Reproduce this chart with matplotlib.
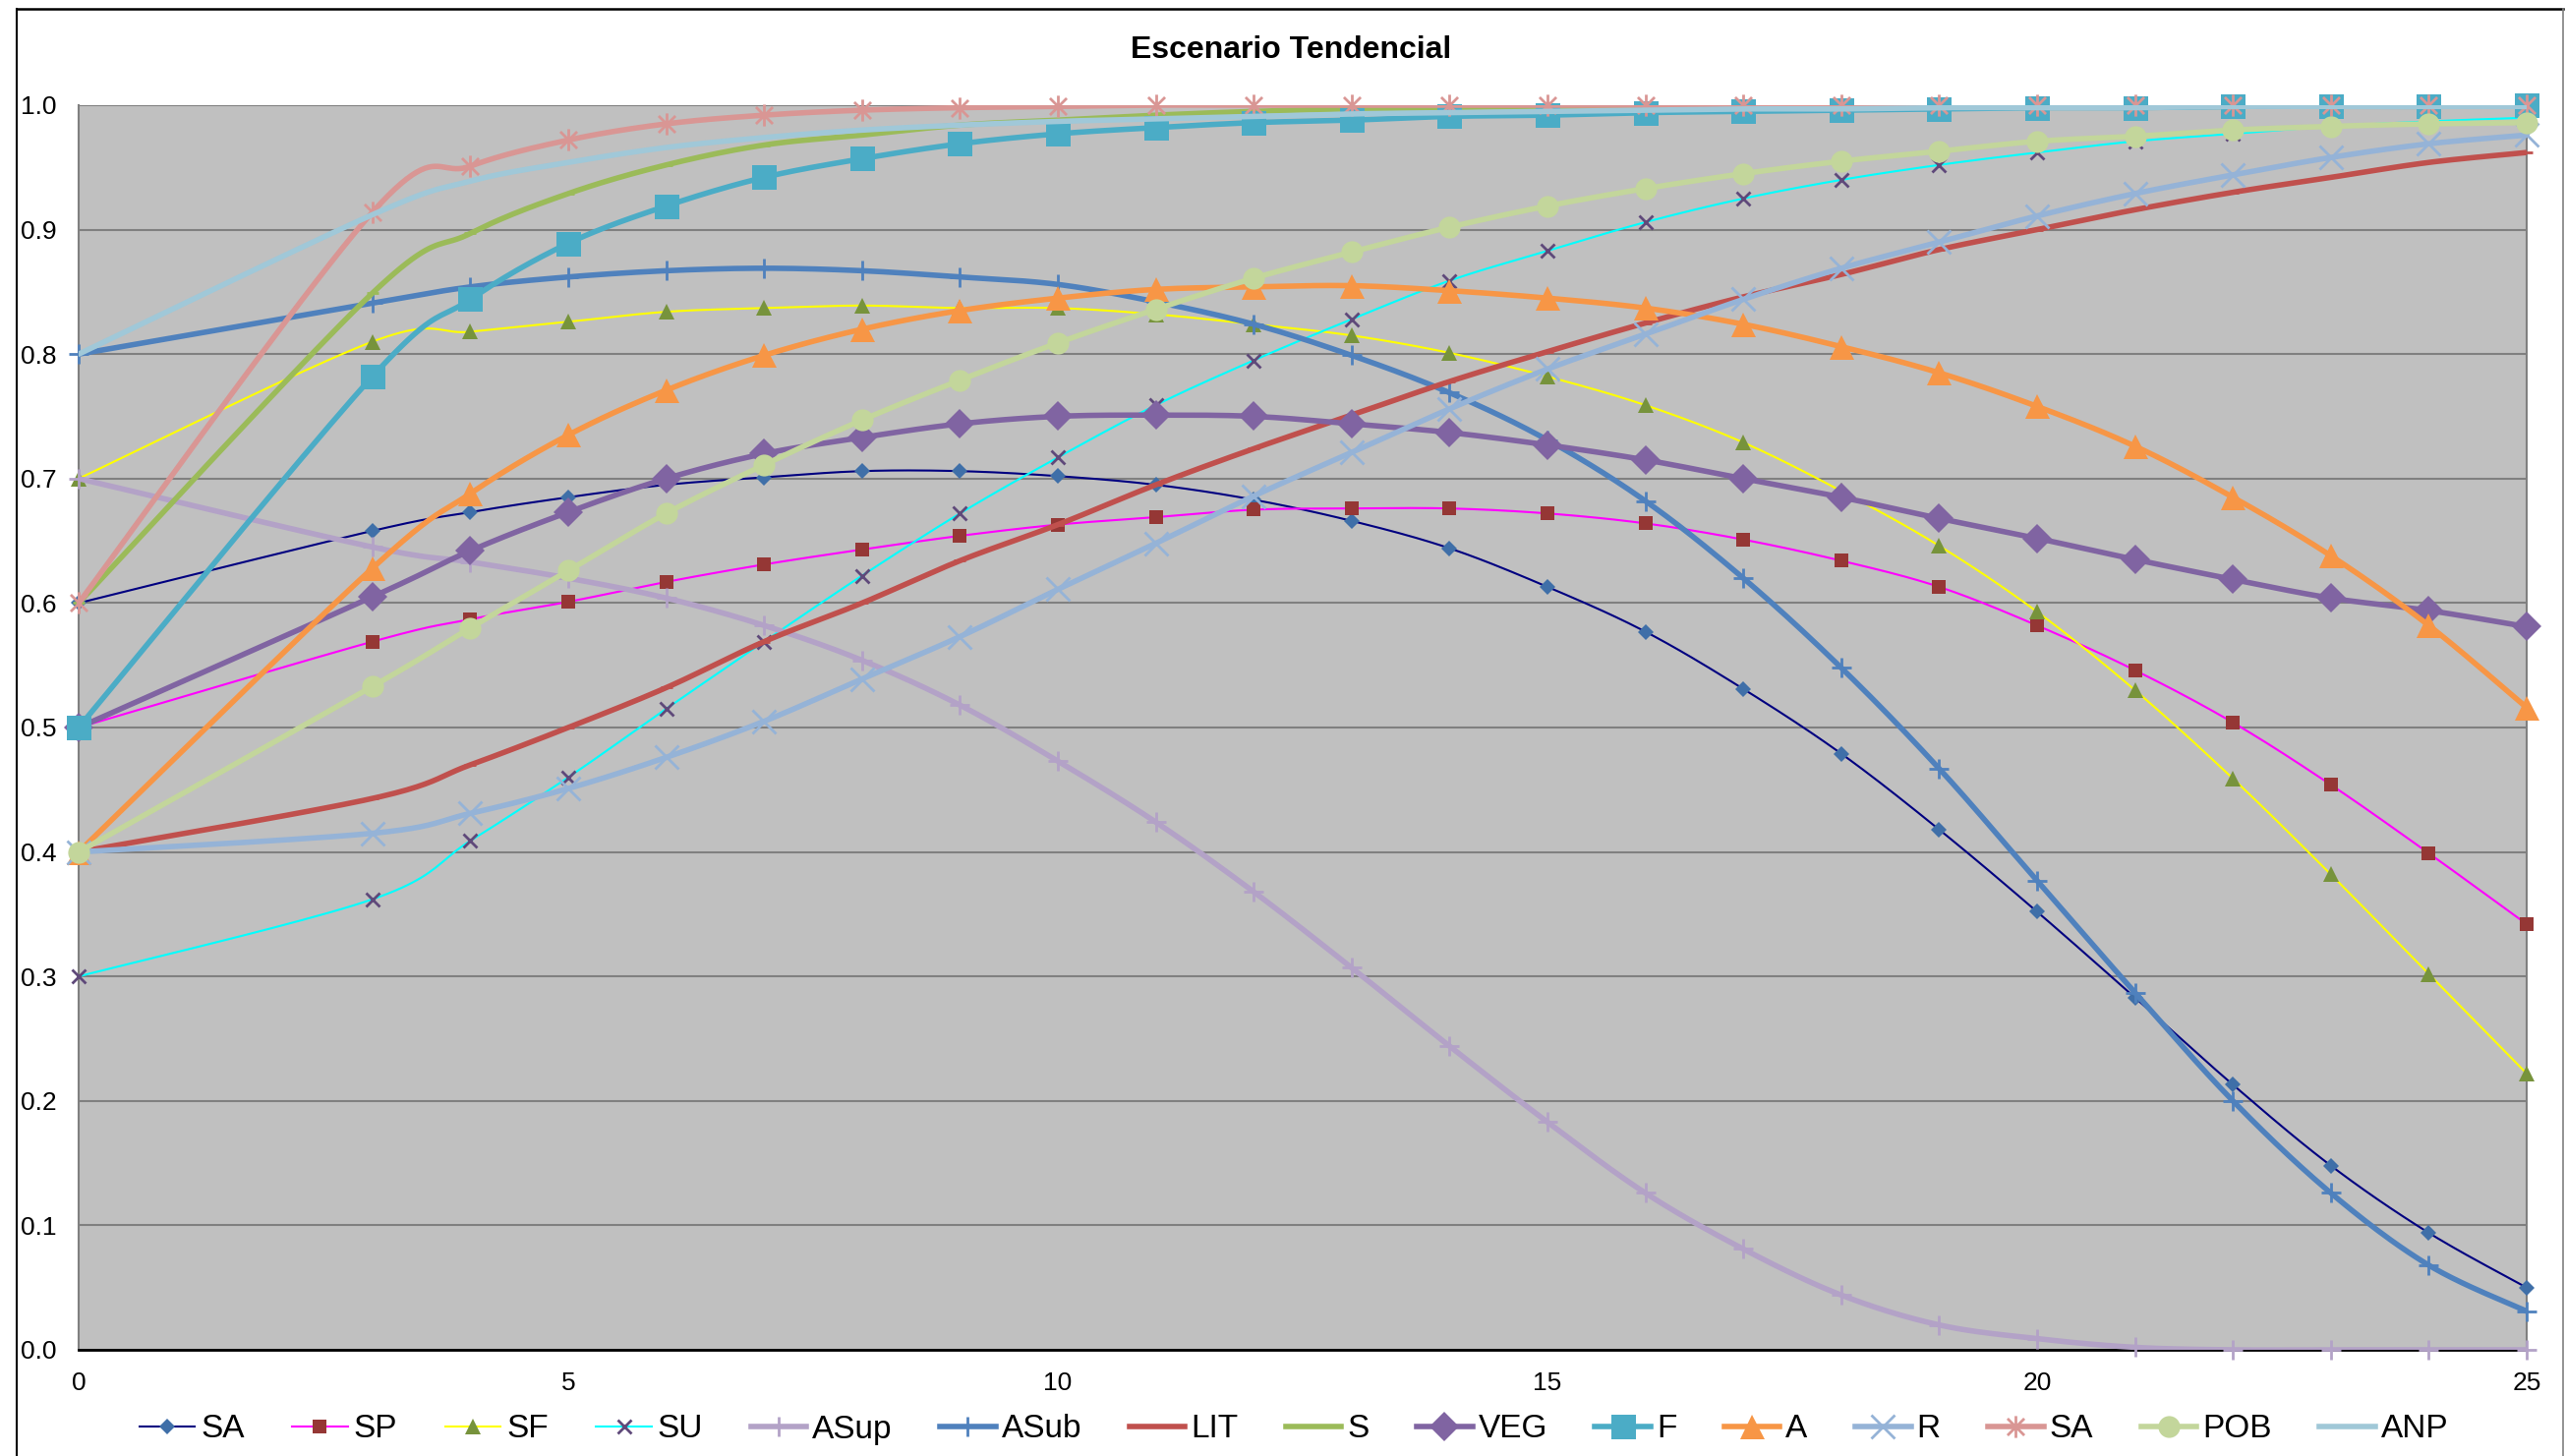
import numpy as np
import matplotlib
matplotlib.use("Agg")
import matplotlib.pyplot as plt
from matplotlib.lines import Line2D
from matplotlib.path import Path

plt.rcParams['font.family'] = ['Liberation Sans', 'DejaVu Sans']

# años del escenario
x = [0, 3, 4, 5, 6, 7, 8, 9, 10, 11, 12, 13, 14, 15, 16, 17, 18, 19, 20, 21, 22, 23, 24, 25]

sa = [0.600, 0.658, 0.673, 0.685, 0.695, 0.701, 0.706, 0.706, 0.702, 0.695, 0.683, 0.666,
      0.644, 0.613, 0.577, 0.531, 0.479, 0.418, 0.352, 0.283, 0.213, 0.148, 0.094, 0.050]
sp = [0.500, 0.569, 0.587, 0.601, 0.617, 0.631, 0.643, 0.654, 0.663, 0.669, 0.675, 0.676,
      0.676, 0.672, 0.664, 0.651, 0.634, 0.613, 0.582, 0.546, 0.504, 0.454, 0.399, 0.342]
sf = [0.700, 0.810, 0.818, 0.826, 0.834, 0.837, 0.839, 0.837, 0.837, 0.832, 0.824, 0.815,
      0.801, 0.782, 0.759, 0.729, 0.690, 0.646, 0.593, 0.530, 0.459, 0.382, 0.302, 0.222]
su = [0.300, 0.362, 0.409, 0.460, 0.515, 0.569, 0.622, 0.672, 0.717, 0.759, 0.795, 0.828,
      0.859, 0.883, 0.906, 0.925, 0.940, 0.952, 0.962, 0.971, 0.977, 0.983, 0.987, 0.990]
asup = [0.700, 0.645, 0.633, 0.620, 0.604, 0.582, 0.554, 0.518, 0.473, 0.424, 0.368, 0.307,
        0.244, 0.183, 0.126, 0.081, 0.044, 0.020, 0.009, 0.002, 0.000, 0.000, 0.000, 0.000]
asub = [0.800, 0.841, 0.854, 0.862, 0.867, 0.869, 0.867, 0.862, 0.856, 0.842, 0.824, 0.799,
        0.769, 0.731, 0.682, 0.620, 0.548, 0.467, 0.377, 0.287, 0.200, 0.126, 0.068, 0.031]
lit = [0.400, 0.443, 0.470, 0.500, 0.532, 0.569, 0.600, 0.634, 0.663, 0.695, 0.724, 0.751,
       0.778, 0.802, 0.825, 0.846, 0.864, 0.884, 0.900, 0.916, 0.930, 0.942, 0.954, 0.962]
s = [0.600, 0.849, 0.897, 0.929, 0.952, 0.968, 0.976, 0.984, 0.988, 0.992, 0.995, 0.997,
     0.998, 0.999, 0.999, 1.000, 1.000, 1.000, 1.000, 1.000, 1.000, 1.000, 1.000, 1.000]
veg = [0.500, 0.605, 0.642, 0.673, 0.700, 0.720, 0.733, 0.744, 0.750, 0.751, 0.750, 0.744,
       0.737, 0.727, 0.715, 0.700, 0.685, 0.668, 0.652, 0.635, 0.619, 0.604, 0.594, 0.581]
f = [0.500, 0.782, 0.844, 0.889, 0.919, 0.942, 0.957, 0.969, 0.977, 0.982, 0.986, 0.988,
     0.991, 0.992, 0.994, 0.995, 0.996, 0.997, 0.998, 0.998, 0.999, 0.999, 0.999, 1.000]
a = [0.400, 0.628, 0.688, 0.735, 0.771, 0.799, 0.820, 0.835, 0.845, 0.852, 0.854, 0.855,
     0.851, 0.845, 0.837, 0.824, 0.806, 0.785, 0.758, 0.726, 0.685, 0.638, 0.582, 0.516]
r = [0.400, 0.415, 0.431, 0.451, 0.476, 0.505, 0.539, 0.573, 0.611, 0.648, 0.686, 0.721,
     0.756, 0.788, 0.816, 0.844, 0.869, 0.890, 0.911, 0.929, 0.944, 0.958, 0.969, 0.976]
sa2 = [0.600, 0.914, 0.951, 0.972, 0.985, 0.992, 0.996, 0.998, 0.999, 1.000, 1.000, 1.000,
       1.000, 1.000, 1.000, 1.000, 1.000, 1.000, 1.000, 1.000, 1.000, 1.000, 1.000, 1.000]
pob = [0.400, 0.533, 0.580, 0.626, 0.672, 0.711, 0.747, 0.779, 0.809, 0.836, 0.861, 0.882,
       0.902, 0.919, 0.933, 0.945, 0.955, 0.963, 0.971, 0.975, 0.980, 0.983, 0.985, 0.986]
anp = [0.800, 0.912, 0.939, 0.954, 0.966, 0.974, 0.980, 0.984, 0.987, 0.989, 0.991, 0.993,
       0.994, 0.995, 0.996, 0.997, 0.997, 0.998, 0.998, 0.998, 0.999, 0.999, 0.999, 0.999]

# asterisco tipo Excel: aspa + trazo vertical
asterisk = Path([(-1, -1), (1, 1), (-1, 1), (1, -1), (0, -1.3), (0, 1.3)],
                [Path.MOVETO, Path.LINETO, Path.MOVETO, Path.LINETO, Path.MOVETO, Path.LINETO])

# nombre, datos, color línea, grosor, marcador, tamaño, color marcador
series = [
    ("SA",   sa,   "#000080", 1.5, "D", 8.5, "#3F6FA8"),
    ("SP",   sp,   "#FF00FF", 1.5, "s", 10, "#953735"),
    ("SF",   sf,   "#FFFF00", 1.5, "^", 11, "#77933C"),
    ("SU",   su,   "#00FFFF", 1.5, "x", 10, "#5F497A"),
    ("ASup", asup, "#B3A2C7", 4.0, "+", 14, "#B3A2C7"),
    ("ASub", asub, "#4F81BD", 4.0, "+", 14, "#4F81BD"),
    ("LIT",  lit,  "#C0504D", 4.0, "_", 9,  "#C0504D"),
    ("S",    s,    "#9BBB59", 4.0, "_", 9,  "#9BBB59"),
    ("VEG",  veg,  "#8064A2", 4.0, "D", 15, "#8064A2"),
    ("F",    f,    "#4BACC6", 4.0, "s", 18, "#4BACC6"),
    ("A",    a,    "#F79646", 4.0, "^", 18, "#F79646"),
    ("R",    r,    "#95B3D7", 4.0, "x", 17, "#95B3D7"),
    ("SA",   sa2,  "#D99694", 4.0, asterisk, 16, "#D99694"),
    ("POB",  pob,  "#C3D69B", 4.0, "o", 16, "#C3D69B"),
    ("ANP",  anp,  "#A0C8D8", 4.0, None, 0, "#A0C8D8"),
]


def smooth(xs, ys, n=24):
    # curva suavizada con Bezier (Catmull-Rom), como las líneas suavizadas de Excel
    p = np.column_stack([xs, ys]).astype(float)
    out = [p[0]]
    t = np.linspace(0, 1, n)[1:, None]
    for i in range(len(p) - 1):
        p0 = p[i - 1] if i > 0 else p[i]
        p1, p2 = p[i], p[i + 1]
        p3 = p[i + 2] if i + 2 < len(p) else p[i + 1]
        c1 = p1 + (p2 - p0) / 6
        c2 = p2 - (p3 - p1) / 6
        seg = (1 - t) ** 3 * p1 + 3 * (1 - t) ** 2 * t * c1 + 3 * (1 - t) * t ** 2 * c2 + t ** 3 * p2
        out.extend(seg)
    return np.array(out)


W, H = 2610, 1481
fig = plt.figure(figsize=(W / 100, H / 100), dpi=100)
ax = fig.add_axes([80 / W, 1 - 1373 / H, (2570 - 80) / W, (1373 - 107) / H])
ax.set_facecolor("#C0C0C0")

handles = []
for i, (name, ys, lc, lw, mk, ms, mc) in enumerate(series):
    curve = smooth(x, ys)
    ax.plot(curve[:, 0], curve[:, 1], color=lc, lw=lw, solid_capstyle="round", zorder=3 + i)
    mew = 2.0 if mk in ("x", "+", "_") or mk is asterisk else 0
    if mk is not None:
        ax.plot(x, ys, ls="none", marker=mk, ms=ms, mfc=mc, mec=mc, mew=mew,
                clip_on=False, zorder=3 + i)
    handles.append(Line2D([0], [0], color=lc, lw=lw, marker=mk, ms=ms if mk else 0,
                          mfc=mc, mec=mc, mew=mew, label=name))

ax.set_xlim(0, 25)
ax.set_ylim(0, 1.0)
ax.set_xticks([0, 5, 10, 15, 20, 25])
ax.set_yticks(np.arange(0, 1.01, 0.1))
ax.yaxis.set_major_formatter(matplotlib.ticker.FormatStrFormatter("%.1f"))
ax.tick_params(length=0, labelsize=19, colors="black")
ax.tick_params(axis="y", pad=16)
ax.tick_params(axis="x", pad=16)
ax.grid(axis="y", color="#808080", lw=1.5)
ax.set_axisbelow(True)
for side in ("left", "right"):
    ax.spines[side].set_color("#808080")
    ax.spines[side].set_linewidth(1.5)
ax.spines["top"].set_visible(False)
ax.spines["bottom"].set_color("black")
ax.spines["bottom"].set_linewidth(2)

fig.text(1313 / W, 1 - 51 / H, "Escenario Tendencial", ha="center", va="center",
         fontsize=23, fontweight="bold")

fig.legend(handles=handles, loc="center", bbox_to_anchor=(1316 / W, 1 - 1454 / H), ncol=15,
           frameon=False, fontsize=24, handlelength=1.7, handletextpad=0.18,
           columnspacing=1.45, borderaxespad=0)

# marco del área del gráfico (sin borde inferior)
fig.add_artist(Line2D([17 / W, 17 / W], [0, 1 - 9 / H], color="black", lw=1.5,
                      transform=fig.transFigure))
fig.add_artist(Line2D([17 / W, 2607 / W], [1 - 9 / H, 1 - 9 / H], color="black", lw=1.8,
                      transform=fig.transFigure))
fig.add_artist(Line2D([2607 / W, 2607 / W], [0, 1 - 9 / H], color="#808080", lw=1.2,
                      transform=fig.transFigure))

fig.savefig("out.png", dpi=100, facecolor="white")
